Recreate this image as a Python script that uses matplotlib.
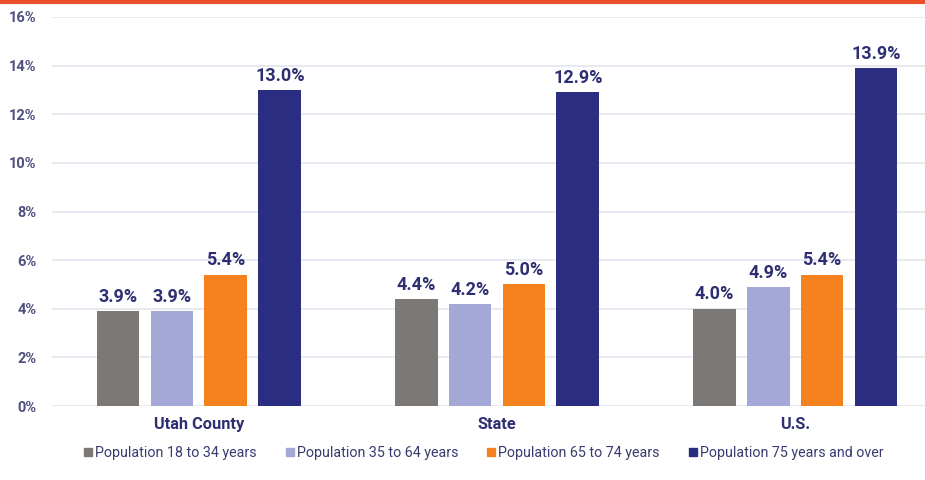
import matplotlib
matplotlib.use("Agg")
import matplotlib.pyplot as plt
import numpy as np
from matplotlib.lines import Line2D

plt.rcParams['font.family'] = ['Roboto', 'DejaVu Sans']

categories = ["Utah County", "State", "U.S."]
series_names = ["Population 18 to 34 years", "Population 35 to 64 years",
                "Population 65 to 74 years", "Population 75 years and over"]
values = [
    [3.9, 4.4, 4.0],
    [3.9, 4.2, 4.9],
    [5.4, 5.0, 5.4],
    [13.0, 12.9, 13.9],
]
colors = ["#7b7876", "#a3a8d6", "#f5821f", "#2b2e80"]
yticks = [0, 2, 4, 6, 8, 10, 12, 14, 16]
ytick_labels = ["0%", "2%", "4%", "6%", "8%", "10%", "12%", "14%", "16%"]

fig = plt.figure(figsize=(9.25, 4.8), dpi=100)
ax = fig.add_axes([52/925, 74/480, 873/925, (406-17)/480])

x = np.arange(len(categories))
width = 0.144
step = 0.181
offsets = (np.arange(4) - 1.5) * step
label_color = "#2e2f72"
for i, (vals, c) in enumerate(zip(values, colors)):
    bars = ax.bar(x + offsets[i], vals, width=width, color=c, zorder=3, label=series_names[i])
    for b, v in zip(bars, vals):
        ax.text(b.get_x() + b.get_width()/2, v + 0.22, f"{v:.1f}%", ha="center", va="bottom",
                fontsize=13, fontweight="bold", color=label_color)

ax.set_xlim(-0.493, 2.436)
ax.set_ylim(0, 16)
ax.set_yticks(yticks)
ax.set_yticklabels(ytick_labels, fontsize=10.5, fontweight="bold", color="#4f4f80")
ax.set_xticks(x)
ax.set_xticklabels(categories, fontsize=11.8, fontweight="bold", color=label_color)
ax.tick_params(axis="both", length=0)
ax.tick_params(axis="y", pad=11)
ax.tick_params(axis="x", pad=8)
ax.grid(axis="y", color="#e4e4ee", linewidth=1.2, zorder=0)
for s in ax.spines.values():
    s.set_visible(False)

handles = [Line2D([0], [0], marker="s", linestyle="none", markersize=6,
                  markerfacecolor=c, markeredgecolor=c) for c in colors]
fig.legend(handles, series_names, loc="center", bbox_to_anchor=(0.522, 0.056), ncol=4,
           frameon=False, fontsize=10.3, labelcolor="#3a3a70", handletextpad=0.1,
           columnspacing=1.9, handlelength=0.8)

fig.add_artist(Line2D([0, 1], [1 - 2/480, 1 - 2/480], transform=fig.transFigure,
                      color="#e8502a", linewidth=3))

fig.savefig("out.png", dpi=100)
